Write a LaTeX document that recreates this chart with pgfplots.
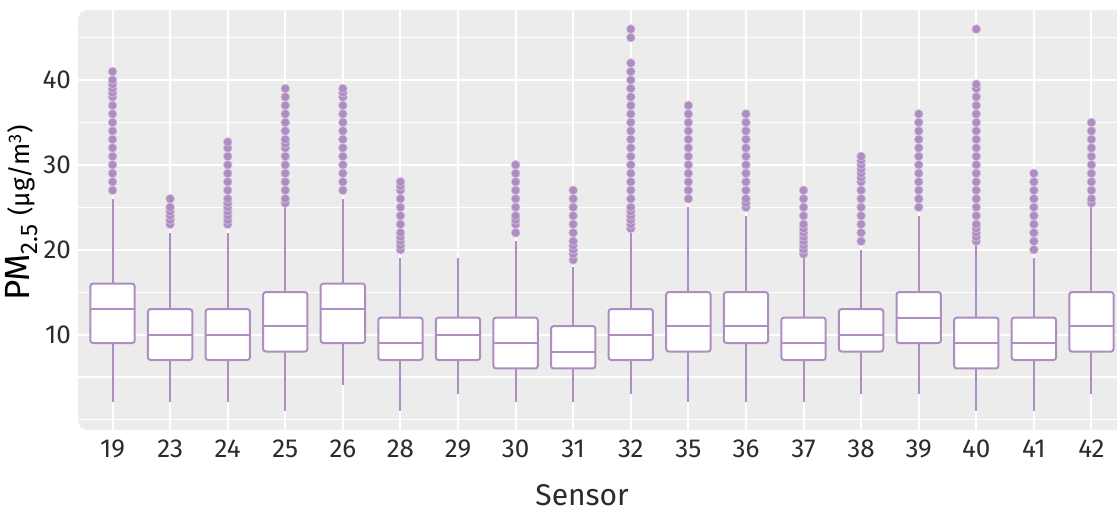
\documentclass[border=0pt]{standalone}
\usepackage{fontspec}
\setmainfont{Fira Sans}
\usepackage{pgfplots}
\pgfplotsset{compat=1.18}
\usepgfplotslibrary{statistics}

\definecolor{boxcol}{HTML}{AF8DC3}
\definecolor{panel}{HTML}{EBECEB}
\definecolor{txt}{HTML}{2B2B2B}

% one sensor: position, lower whisker, Q1, median, Q3, upper whisker, outliers
\newcommand{\sensor}[7]{%
  \addplot[sb, boxplot prepared={draw position=#1, lower whisker=#2,
    lower quartile=#3, median=#4, upper quartile=#5, upper whisker=#6}]
    table[row sep=\\, y index=0] {data\\ #7};
}

\pgfplotsset{
  sb/.style={
    boxcol, line width=1pt, solid,
    mark=*, mark size=2.2pt,
    mark options={fill=boxcol, draw=boxcol!55!white, line width=0.3pt},
    boxplot/draw direction=y,
    boxplot/box extend=0.77,
    boxplot/whisker extend=0,
    boxplot/every box/.style={fill=white, draw=boxcol, line width=1pt, rounded corners=1.3pt},
    boxplot/every whisker/.style={draw=boxcol, line width=1pt},
    boxplot/every median/.style={draw=boxcol, line width=1pt},
  },
}

\begin{document}
\begin{tikzpicture}
\begin{axis}[
  name=ax,
  scale only axis,
  width=524pt, height=210pt,
  xmin=0.4, xmax=18.6,
  ymin=-1.25, ymax=48.25,
  xtick={1,...,18},
  xticklabels={19,23,24,25,26,28,29,30,31,32,35,36,37,38,39,40,41,42},
  ytick={10,20,30,40},
  minor ytick={0,5,15,25,35,45},
  grid=both,
  major grid style={white, line width=1pt},
  minor grid style={white, line width=0.6pt},
  axis line style={draw=none},
  tick style={draw=none},
  axis background/.style={fill=panel, rounded corners=5pt},
  tick label style={font=\fontsize{13}{15}\selectfont, text=txt},
  xticklabel style={yshift=-1.5pt},
  /pgf/number format/assume math mode=true,
  xlabel={Sensor},
  xlabel style={at={(axis description cs:0.481,-0.155)}, anchor=center,
    font=\fontsize{15}{17}\selectfont, text=txt, inner sep=1pt},
  ylabel={{\fontsize{17.5}{20}\selectfont PM}\textsubscript{\fontsize{12}{14}\selectfont 2.5}\hspace{4pt}(μg/m\textsuperscript{3})},
  ylabel style={at={(axis description cs:-0.0534,0.517)}, anchor=center,
    font=\fontsize{13}{15}\selectfont, text=black},
]
\sensor{1}{2}{9}{13}{16}{26}{27\\28\\29\\30\\31\\32\\33\\34\\35\\36\\37\\38\\38.5\\39\\39.5\\40\\41\\}
\sensor{2}{2}{7}{10}{13}{22}{23\\23.5\\24\\24.5\\25\\26\\}
\sensor{3}{2}{7}{10}{13}{22}{23\\23.5\\24\\24.5\\25\\25.5\\26\\27\\28\\29\\30\\31\\32\\32.7\\}
\sensor{4}{1}{8}{11}{15}{25}{25.5\\26\\27\\28\\29\\30\\31\\32\\32.5\\33\\34\\35\\36\\37\\38\\39\\}
\sensor{5}{4}{9}{13}{16}{26}{27\\28\\29\\30\\31\\32\\33\\34\\35\\36\\37\\38\\38.5\\39\\}
\sensor{6}{1}{7}{9}{12}{19}{20\\20.5\\21\\21.5\\22\\23\\24\\25\\26\\27\\27.5\\28\\}
\sensor{7}{3}{7}{10}{12}{19}{}
\sensor{8}{2}{6}{9}{12}{21}{22\\23\\23.5\\24\\25\\26\\27\\28\\29\\30\\}
\sensor{9}{2}{6}{8}{11}{18}{18.8\\19.5\\20\\20.5\\21\\22\\23\\24\\25\\26\\27\\}
\sensor{10}{3}{7}{10}{13}{22}{22.5\\23\\23.5\\24\\24.5\\25\\26\\27\\28\\29\\30\\31\\32\\33\\34\\35\\36\\37\\38\\39\\40\\41\\42\\45\\46\\}
\sensor{11}{2}{8}{11}{15}{25}{26\\27\\28\\29\\30\\31\\32\\33\\34\\35\\36\\37\\}
\sensor{12}{2}{9}{11}{15}{24}{25\\25.5\\26\\27\\28\\29\\30\\31\\32\\33\\34\\35\\36\\}
\sensor{13}{2}{7}{9}{12}{19}{19.5\\20\\20.5\\21\\21.5\\22\\22.5\\23\\24\\25\\26\\27\\}
\sensor{14}{3}{8}{10}{13}{20}{21\\22\\23\\24\\25\\26\\27\\28\\28.5\\29\\29.5\\30\\30.5\\31\\}
\sensor{15}{3}{9}{12}{15}{24}{25\\26\\27\\28\\29\\30\\31\\32\\33\\34\\35\\36\\}
\sensor{16}{1}{6}{9}{12}{20.5}{21\\21.5\\22\\22.5\\23\\24\\25\\26\\27\\28\\29\\30\\31\\32\\33\\34\\35\\36\\37\\38\\39\\39.5\\46\\}
\sensor{17}{1}{7}{9}{12}{19}{20\\21\\22\\23\\24\\25\\26\\27\\28\\29\\}
\sensor{18}{3}{8}{11}{15}{25}{25.5\\26\\27\\28\\29\\30\\31\\32\\33\\34\\35\\}
\end{axis}
\pgfresetboundingbox
\path[use as bounding box] ([shift={(-39pt,-42pt)}]ax.south west)
  rectangle ([shift={(519.5pt,215pt)}]ax.south west);
\end{tikzpicture}
\end{document}
